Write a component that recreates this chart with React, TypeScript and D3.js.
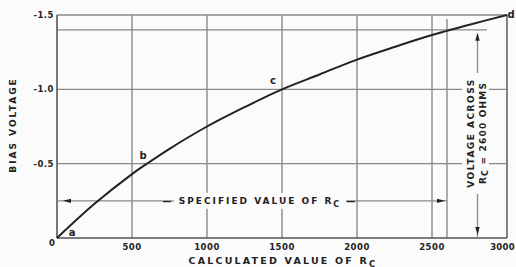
import React from "react";
import * as d3 from "d3";

const rcValues = [0, 250, 500, 600, 750, 1000, 1250, 1500, 1750, 2000, 2250, 2500, 2600, 2750, 3000];
const biasValues = [0, 0.23, 0.43, 0.5, 0.6, 0.75, 0.88, 1.0, 1.1, 1.2, 1.285, 1.365, 1.393, 1.435, 1.5];
const xTicks = [500, 1000, 1500, 2000, 2500, 3000];
const xTickLabels = ["500", "1000", "1500", "2000", "2500", "3000"];
const yTicks = [0.5, 1.0, 1.5];
const yTickLabels = ["-0.5", "-1.0", "-1.5"];
const pointNames = ["a", "b", "c", "d"];
const pointRc = [0, 600, 1500, 3000];
const pointBias = [0, 0.5, 1.0, 1.5];
const specifiedRc = 2600;
const specifiedBias = 1.4;
const specifiedArrowLevel = 0.25;

const W = 516, H = 267;
const BG = "#fbfbfb";
const GRID = "#8a8a8a";
const INK = "#222";
const FONT = "'DejaVu Sans', sans-serif";

export default function App() {
  const x = d3.scaleLinear().domain([0, 3000]).range([57, 507]);
  const y = d3.scaleLinear().domain([0, 1.5]).range([238, 15]);
  const line = d3
    .line<number>()
    .x((_, i) => x(rcValues[i]))
    .y((d) => y(d))
    .curve(d3.curveCatmullRom);

  const x0 = x(0), x1 = x(3000), y0 = y(0), y1 = y(1.5);
  const xs = x(specifiedRc);
  const ys = y(specifiedBias);
  const ya = y(specifiedArrowLevel);
  const arrowX = 477.5;

  const labelOffsets = [
    [15, -2],
    [-4, -5],
    [-9, -5],
    [4, 3],
  ];

  return (
    <svg width={W} height={H} style={{ position: "absolute", left: 0, top: 0, background: BG }} fontFamily={FONT}>
      <rect width={W} height={H} fill={BG} />
      {/* vertical grid */}
      {xTicks.slice(0, -1).map((t) => (
        <line key={"vx" + t} x1={x(t)} x2={x(t)} y1={y1} y2={y0} stroke={GRID} strokeWidth={1.4} />
      ))}
      {/* horizontal grid */}
      {yTicks.slice(0, -1).map((t) => (
        <line key={"hy" + t} x1={x0} x2={x1} y1={y(t)} y2={y(t)} stroke={GRID} strokeWidth={1.4} />
      ))}
      {/* specified lines */}
      <line x1={xs} x2={xs} y1={y1 + 4} y2={y0} stroke={GRID} strokeWidth={1.4} />
      <line x1={x0} x2={487} y1={ys} y2={ys} stroke={GRID} strokeWidth={1.4} />
      {/* frame */}
      <line x1={x0} x2={x1} y1={y1} y2={y1} stroke={GRID} strokeWidth={1.5} />
      <line x1={x1} x2={x1} y1={y1} y2={y0} stroke="#666" strokeWidth={1.6} />
      <line x1={x0} x2={x0} y1={y1} y2={y0} stroke="#555" strokeWidth={1.6} />
      <line x1={x0} x2={x1} y1={y0} y2={y0} stroke="#555" strokeWidth={1.6} />

      {/* specified value arrow line */}
      <line x1={x0} x2={xs} y1={ya} y2={ya} stroke={GRID} strokeWidth={1.3} />
      <path d={`M${x0 + 6},${ya} l8,-2.2 l0,4.4 z`} fill={INK} />
      <path d={`M${xs - 2},${ya} l-8,-2.2 l0,4.4 z`} fill={INK} />
      <rect x={174} y={ya - 8} width={172} height={16} fill={BG} />
      <text x={260} y={ya + 3.5} fontSize={9} fontWeight="bold" fill={INK} textAnchor="middle" letterSpacing={2}>
        — SPECIFIED VALUE OF R<tspan fontSize={8} dy={3}>C</tspan>
        <tspan dy={-3}> —</tspan>
      </text>

      {/* curve */}
      <path d={line(biasValues) || ""} fill="none" stroke={INK} strokeWidth={2} />

      {/* point labels */}
      {pointNames.map((n, i) => (
        <text
          key={n}
          x={x(pointRc[i]) + labelOffsets[i][0]}
          y={y(pointBias[i]) + labelOffsets[i][1]}
          fontSize={10}
          fontWeight="bold"
          fill={INK}
          textAnchor="middle"
        >
          {n}
        </text>
      ))}

      {/* vertical annotation */}
      <rect x={462} y={76} width={27} height={115} fill={BG} />
      <line x1={arrowX} x2={arrowX} y1={ys + 4} y2={73} stroke={GRID} strokeWidth={1.3} />
      <path d={`M${arrowX},${ys + 3} l-2.2,8 l4.4,0 z`} fill={INK} />
      <line x1={arrowX} x2={arrowX} y1={194} y2={y0} stroke={GRID} strokeWidth={1.3} />
      <path d={`M${arrowX},${y0 - 3} l-2.2,-8 l4.4,0 z`} fill={INK} />
      <g transform="translate(474,133) rotate(-90)">
        <text x={0} y={0} fontSize={9} fontWeight="bold" fill={INK} textAnchor="middle" letterSpacing={1.5}>
          VOLTAGE ACROSS
        </text>
        <text x={0} y={12} fontSize={9} fontWeight="bold" fill={INK} textAnchor="middle" letterSpacing={1.2}>
          R<tspan fontSize={8} dy={2}>C</tspan>
          <tspan dy={-2}> = 2600 OHMS</tspan>
        </text>
      </g>

      {/* x tick labels */}
      {xTicks.map((t, i) =>
        i === xTicks.length - 1 ? (
          <text key={"xt" + t} x={W - 1} y={250} fontSize={8.5} fontWeight="bold" fill={INK} textAnchor="end" letterSpacing={0.3}>
            {xTickLabels[i]}
          </text>
        ) : (
          <text key={"xt" + t} x={x(t)} y={250} fontSize={8.5} fontWeight="bold" fill={INK} textAnchor="middle" letterSpacing={0.5}>
            {xTickLabels[i]}
          </text>
        )
      )}
      <text x={x0 - 5} y={y0 + 8} fontSize={8.5} fontWeight="bold" fill={INK} textAnchor="middle">
        0
      </text>
      {/* y tick labels */}
      {yTicks.map((t, i) => (
        <text key={"yt" + t} x={x0 - 3} y={y(t) + 3} fontSize={8.5} fontWeight="bold" fill={INK} textAnchor="end" letterSpacing={0.5}>
          {yTickLabels[i]}
        </text>
      ))}

      {/* axis titles */}
      <text x={283} y={264} fontSize={9.5} fontWeight="bold" fill={INK} textAnchor="middle" letterSpacing={2.2}>
        CALCULATED VALUE OF R<tspan fontSize={8.5} dy={2.5}>C</tspan>
      </text>
      <text transform="translate(16,125) rotate(-90)" fontSize={9} fontWeight="bold" fill={INK} textAnchor="middle" letterSpacing={2}>
        BIAS VOLTAGE
      </text>
    </svg>
  );
}
